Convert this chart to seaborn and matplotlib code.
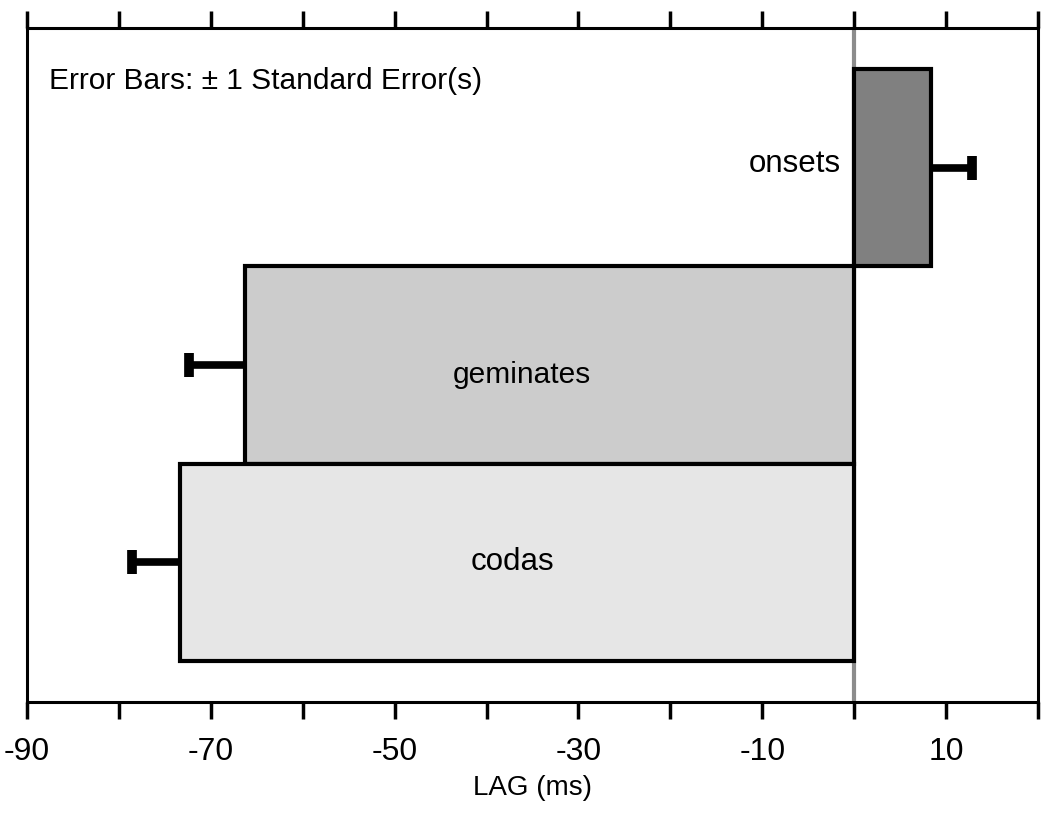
import matplotlib
matplotlib.use("Agg")
import matplotlib.pyplot as plt
import numpy as np
import pandas as pd
import seaborn as sns

# data
categories = ["onsets", "geminates", "codas"]
lag_ms = [8.4, -66.3, -73.4]
std_err = [4.4, 6.1, 5.2]
bar_colors = ["#808080", "#cccccc", "#e6e6e6"]

sns.set_style("white")
plt.rcParams['font.family'] = ['Liberation Sans', 'DejaVu Sans']
plt.rcParams['text.color'] = 'black'
plt.rcParams['axes.labelcolor'] = 'black'
plt.rcParams['xtick.color'] = 'black'

df = pd.DataFrame({"category": categories, "lag": lag_ms})

fig = plt.figure(figsize=(10.5, 8.15), dpi=100)
ax = fig.add_axes([0.0257, 0.1387, 0.9629, 0.8269])

sns.barplot(data=df, x="lag", y="category", hue="category", palette=bar_colors,
            orient="h", width=1.0, edgecolor="black", linewidth=3,
            legend=False, ax=ax, zorder=2)

# one-sided error bars, pointing away from zero
for i, (v, e) in enumerate(zip(lag_ms, std_err)):
    sign = 1 if v > 0 else -1
    ax.plot([v, v + sign * e], [i, i], color="black", lw=5.5,
            solid_capstyle="butt", zorder=3)
    ax.plot([v + sign * e, v + sign * e], [i - 0.062, i + 0.062],
            color="black", lw=7, solid_capstyle="butt", zorder=3)

ax.axvline(0, color="#8c8c8c", lw=3, zorder=1)

# labels inside / beside the bars
ax.text(-1.4, -0.02, "onsets", ha="right", va="center", fontsize=22.5)
ax.text(-36.2, 1.05, "geminates", ha="center", va="center", fontsize=21.5)
ax.text(-37.2, 2.0, "codas", ha="center", va="center", fontsize=22.5)
ax.text(-87.6, -0.44, "Error Bars: \u00b1 1 Standard Error(s)", ha="left",
        va="center", fontsize=21.5)

ax.set_xlim(-90, 20)
ax.set_ylim(2.71, -0.71)
ticks = np.arange(-90, 21, 10)
ax.set_xticks(ticks)
ax.set_xticklabels([str(t) if t % 20 != 0 else "" for t in ticks], fontsize=23)
ax.tick_params(axis="x", which="both", direction="out", length=12, width=2.5,
               top=True, bottom=True, labeltop=False, color="black", pad=13)
ax.set_yticks([])
ax.set_ylabel("")
ax.set_xlabel("LAG (ms)", fontsize=20, labelpad=6)

for s in ax.spines.values():
    s.set_linewidth(2.2)
    s.set_color("black")

fig.savefig("out.png", dpi=100)
